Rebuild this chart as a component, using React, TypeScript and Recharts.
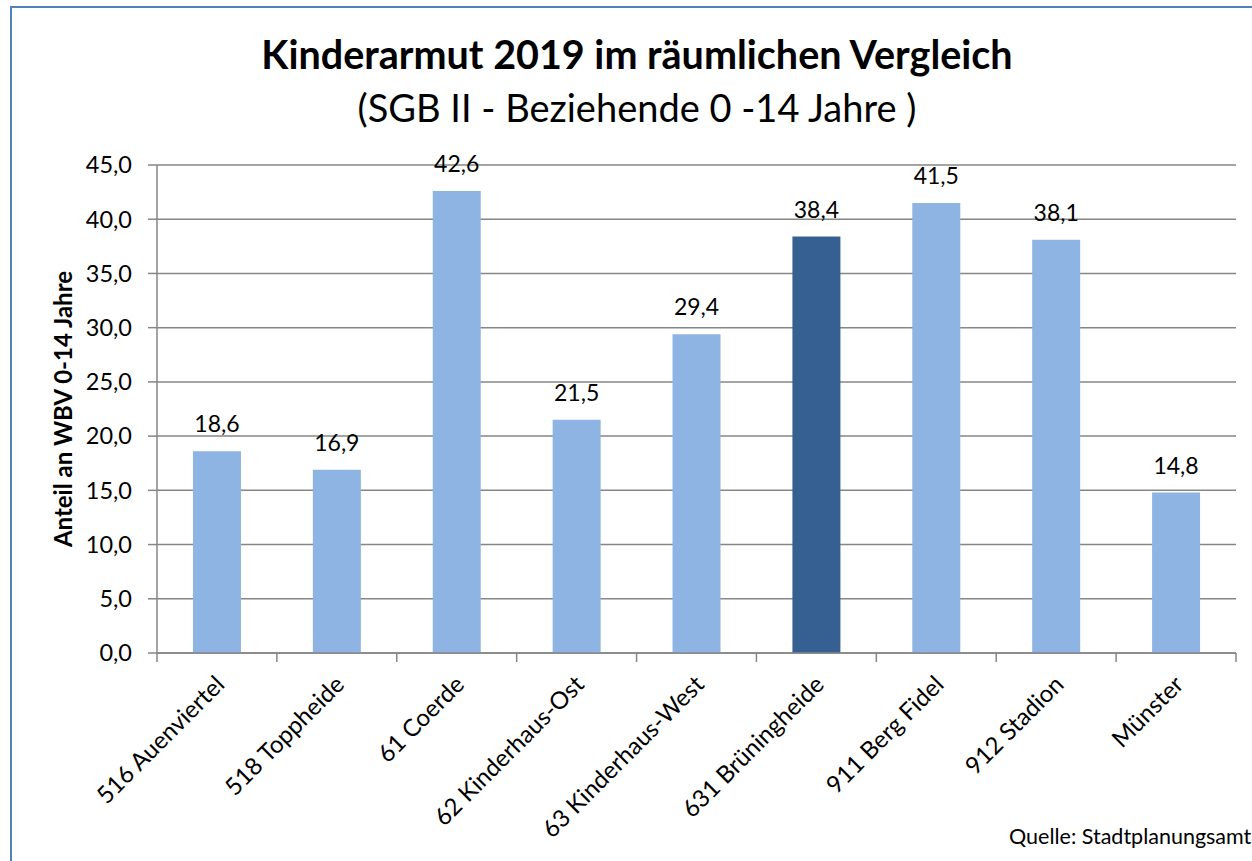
import React from 'react';
import { BarChart, Bar, XAxis, YAxis, CartesianGrid, Cell, LabelList, Label } from 'recharts';

const categories = [
  '516 Auenviertel',
  '518 Toppheide',
  '61 Coerde',
  '62 Kinderhaus-Ost',
  '63 Kinderhaus-West',
  '631 Brüningheide',
  '911 Berg Fidel',
  '912 Stadion',
  'Münster',
];
const values = [18.6, 16.9, 42.6, 21.5, 29.4, 38.4, 41.5, 38.1, 14.8];
const highlighted = ['631 Brüningheide'];
const yTicks = [0, 5, 10, 15, 20, 25, 30, 35, 40, 45];

const data = categories.map((name, i) => ({ name, value: values[i] }));

const W = 1252;
const H = 861;
const M = { top: 165, right: 16, left: 0, bottom: 0 };
const Y_W = 157;
const X_H = 208;
const FONT = 'Lato, "Open Sans", sans-serif';
const BAND = (W - M.left - M.right - Y_W) / categories.length;
const AXIS = '#868686';

const fmt = (v: number) => v.toFixed(1).replace('.', ',');

const XTick = (props: any) => {
  const { x, y, payload, index } = props;
  const half = BAND / 2;
  const last = index === categories.length - 1;
  return (
    <g>
      <line x1={x - half} x2={x - half} y1={y} y2={y + 9} stroke={AXIS} strokeWidth={1.5} />
      {last && <line x1={x + half} x2={x + half} y1={y} y2={y + 9} stroke={AXIS} strokeWidth={1.5} />}
      <text
        x={x + 9}
        y={y + 33}
        transform={`rotate(-45 ${x + 9} ${y + 33})`}
        textAnchor="end"
        fontSize={24}
        fontFamily={FONT}
        fill="#000"
      >
        {payload.value}
      </text>
    </g>
  );
};

const YLabel = (props: any) => {
  const cx = 62;
  const cy = props.viewBox ? props.viewBox.y + props.viewBox.height / 2 : 409;
  return (
    <text
      x={cx}
      y={cy}
      transform={`rotate(-90 ${cx} ${cy})`}
      textAnchor="middle"
      dominantBaseline="central"
      fontSize={24}
      fontWeight="bold"
      fontFamily={FONT}
      fill="#000"
    >
      Anteil an WBV 0-14 Jahre
    </text>
  );
};

export default function App() {
  return (
    <div style={{ position: 'absolute', left: 0, top: 0, width: W, height: H, overflow: 'hidden', background: '#fff' }}>
      <div
        style={{
          position: 'absolute',
          left: 10,
          top: 6,
          width: 1400,
          height: 1000,
          border: '2px solid #4F81BD',
          boxSizing: 'border-box',
        }}
      />
      <div
        style={{
          position: 'absolute',
          left: 0,
          width: 1274,
          top: 32,
          textAlign: 'center',
          fontFamily: FONT,
          fontWeight: 'bold',
          fontSize: 39.5,
          lineHeight: '44px',
          color: '#000',
          whiteSpace: 'nowrap',
        }}
      >
        Kinderarmut 2019 im räumlichen Vergleich
      </div>
      <div
        style={{
          position: 'absolute',
          left: 0,
          width: 1274,
          top: 85,
          textAlign: 'center',
          fontFamily: FONT,
          fontSize: 38,
          lineHeight: '44px',
          color: '#000',
          whiteSpace: 'nowrap',
        }}
      >
        (SGB II - Beziehende 0 -14 Jahre )
      </div>
      <div style={{ position: 'absolute', left: 0, top: 0 }}>
        <BarChart width={W} height={H} data={data} margin={M} barCategoryGap="30%">
          <CartesianGrid horizontal vertical={false} stroke={AXIS} strokeWidth={1.5} />
          <XAxis
            dataKey="name"
            type="category"
            interval={0}
            height={X_H}
            stroke={AXIS}
            strokeWidth={1.5}
            tickLine={false}
            tickSize={0}
            tickMargin={0}
            tick={<XTick />}
          />
          <YAxis
            width={Y_W}
            domain={[0, 45]}
            ticks={yTicks}
            interval={0}
            stroke={AXIS}
            strokeWidth={1.5}
            tickSize={9}
            tickMargin={16}
            tickFormatter={fmt}
            tick={{ fontSize: 23.5, fontFamily: FONT, fill: '#000' }}
          >
            <Label content={<YLabel />} />
          </YAxis>
          <Bar dataKey="value" isAnimationActive={false}>
            {data.map((d) => (
              <Cell key={d.name} fill={highlighted.includes(d.name) ? '#376092' : '#8EB4E3'} />
            ))}
            <LabelList
              dataKey="value"
              position="top"
              offset={19}
              formatter={(v: any) => fmt(Number(v))}
              style={{ fontSize: 23, fontFamily: FONT, fill: '#000' }}
            />
          </Bar>
        </BarChart>
      </div>
      <div
        style={{
          position: 'absolute',
          left: 1009,
          top: 823,
          fontFamily: FONT,
          fontSize: 21.5,
          color: '#000',
          whiteSpace: 'nowrap',
        }}
      >
        Quelle: Stadtplanungsamt
      </div>
    </div>
  );
}
